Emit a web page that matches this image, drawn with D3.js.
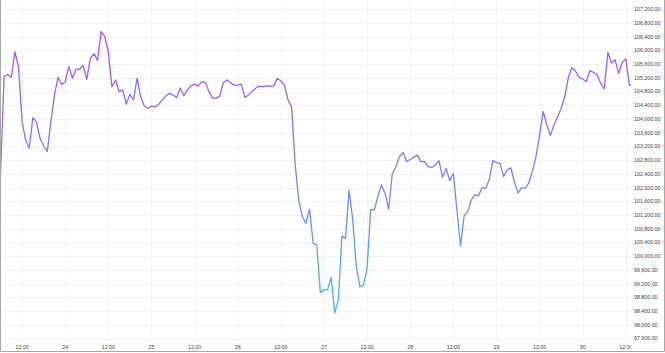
<!DOCTYPE html>
<html>
<head>
<meta charset="utf-8">
<script src="https://cdn.jsdelivr.net/npm/d3@7"></script>
<style>
  html, body { margin: 0; padding: 0; background: #fff; }
  svg { display: block; }
  .tick-label { font-family: "Liberation Sans", Arial, sans-serif; font-size: 5.3px; fill: #3c3c3c; }
</style>
</head>
<body>
<svg id="chart"></svg>
<script>
// hourly closes, first one at 23 Jan 06:00 UTC
var startTime = new Date(Date.UTC(2025, 0, 23, 6));
var prices = [
  102370, 105240, 105300, 105220, 105960, 105530, 103920, 103390, 103150, 104040,
  103920, 103440, 103220, 103050, 103920, 104700, 105220, 105010, 105090, 105530,
  105190, 105450, 105460, 105560, 105160, 105770, 105900, 105720, 106550, 106400,
  105960, 104940, 105140, 104800, 104850, 104440, 104720, 104560, 105190, 104650,
  104380, 104310, 104380, 104350, 104430, 104560, 104680, 104750, 104700, 104620,
  104910, 104680, 104850, 104970, 105020, 104960, 105090, 105070, 104800, 104610,
  104610, 104670, 105060, 105140, 105060, 104990, 104990, 105020, 104630, 104700,
  104800, 104900, 104960, 104940, 104970, 104960, 104960, 105190, 105110, 104990,
  104560, 104360, 102660, 101640, 101150, 100960, 101370, 100380, 100330, 98940,
  99020, 99020, 99390, 98350, 98730, 100590, 100520, 101930, 101060, 99700,
  99110, 99160, 99650, 101370, 101350, 101740, 102080, 101840, 101370, 102400,
  102610, 102900, 103030, 102760, 102830, 102890, 102950, 102760, 102760, 102610,
  102590, 102660, 102790, 102300, 102560, 102200, 102420, 101350, 100300, 101180,
  101300, 101640, 101790, 101760, 102010, 101980, 102240, 102790, 102730, 102710,
  102320, 102520, 102580, 102170, 101840, 102000, 101980, 102140, 102470, 102900,
  103540, 104220, 103830, 103520, 103830, 104070, 104310, 104650, 105210, 105500,
  105400, 105210, 105170, 105090, 105410, 105360, 105290, 105040, 104880, 105940,
  105630, 105730, 105330, 105660, 105750, 104980, 105020
];
var priceTicks = d3.range(97600, 107201, 400);

var width = 665;
var height = 353;
var paneRight = 631;
var paneBottom = 341;

var data = prices.map(function (p, i) {
  return { time: d3.utcHour.offset(startTime, i), price: p };
});

var svg = d3.select("#chart").attr("width", width).attr("height", height);

var x = d3.scaleUtc()
  .domain([new Date(Date.UTC(2025, 0, 24)), new Date(Date.UTC(2025, 0, 30))])
  .range([65.2, 582.7]);

var y = d3.scaleLinear()
  .domain([97600, 107200])
  .range([338.6, 9.3]);

var timeTicks = d3.utcHour.every(12).range(
  d3.utcHour.offset(x.invert(0), -1), x.invert(paneRight + 2)
);

svg.append("defs").append("clipPath").attr("id", "pane")
  .append("rect").attr("x", 0).attr("y", 0)
  .attr("width", paneRight).attr("height", paneBottom);

var grad = svg.select("defs").append("linearGradient")
  .attr("id", "lineGrad")
  .attr("gradientUnits", "userSpaceOnUse")
  .attr("x1", 0).attr("x2", 0)
  .attr("y1", y(106400)).attr("y2", y(98400));
grad.append("stop").attr("offset", 0).attr("stop-color", "#b04ef2");
grad.append("stop").attr("offset", 1).attr("stop-color", "#3fb8e8");

var grid = svg.append("g").attr("clip-path", "url(#pane)");

grid.selectAll(".hgrid").data(priceTicks).join("line")
  .attr("x1", 0).attr("x2", paneRight)
  .attr("y1", function (d) { return Math.round(y(d)) + 0.5; })
  .attr("y2", function (d) { return Math.round(y(d)) + 0.5; })
  .attr("stroke", "#f0f2f5");

grid.selectAll(".vgrid").data(timeTicks).join("line")
  .attr("y1", 0).attr("y2", paneBottom)
  .attr("x1", function (d) { return Math.round(x(d)) + 0.5; })
  .attr("x2", function (d) { return Math.round(x(d)) + 0.5; })
  .attr("stroke", "#f0f2f5");

var line = d3.line()
  .x(function (d) { return x(d.time); })
  .y(function (d) { return y(d.price); });

svg.append("g").attr("clip-path", "url(#pane)")
  .append("path")
  .datum(data)
  .attr("d", line)
  .attr("fill", "none")
  .attr("stroke", "url(#lineGrad)")
  .attr("stroke-width", 1.3)
  .attr("stroke-linejoin", "round");

// price scale on the right
svg.append("g").selectAll("text").data(priceTicks).join("text")
  .attr("class", "tick-label")
  .attr("x", 634)
  .attr("y", function (d) { return y(d); })
  .attr("dy", "0.35em")
  .text(function (d) { return d3.format(",.2f")(d); });

// time scale along the bottom
svg.append("defs").append("clipPath").attr("id", "timeAxis")
  .append("rect").attr("x", 0).attr("y", paneBottom)
  .attr("width", paneRight).attr("height", height - paneBottom);

svg.append("g").attr("clip-path", "url(#timeAxis)")
  .selectAll("text").data(timeTicks).join("text")
  .attr("class", "tick-label")
  .attr("x", function (d) { return x(d); })
  .attr("y", 347)
  .attr("dy", "0.35em")
  .attr("text-anchor", "middle")
  .text(function (d) {
    return d.getUTCHours() === 12 ? "12:00" : d3.utcFormat("%-d")(d);
  });

// outer frame
svg.append("path")
  .attr("d", "M0.5,0V" + (height - 1.5) + "H" + (width - 0.5) + "V0")
  .attr("fill", "none")
  .attr("stroke", "#a8a8a8");
</script>
</body>
</html>
